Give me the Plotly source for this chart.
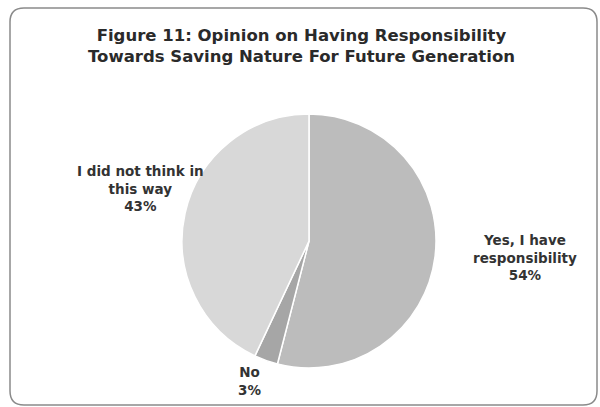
import plotly.graph_objects as go

labels = ["Yes, I have<br>responsibility", "No", "I did not think in<br>this way"]
values = [54, 3, 43]
colors = ["#bcbcbc", "#a6a6a6", "#d8d8d8"]
title_lines = ["Figure 11: Opinion on Having Responsibility",
               "Towards Saving Nature For Future Generation"]

W, H = 600, 407
# label anchor positions in pixels (layout only)
label_pos = [(525, 257), (249, 381), (140, 188)]

fig = go.Figure()
fig.add_trace(go.Pie(
    labels=labels, values=values, sort=False, direction="clockwise", rotation=0,
    marker=dict(colors=colors, line=dict(color="#ffffff", width=1.5)),
    textinfo="none", hoverinfo="label+percent", showlegend=False,
    domain=dict(x=[(309 - 127) / W, (309 + 127) / W],
                y=[1 - 368 / H, 1 - 114 / H]),
))

total = sum(values)
for lab, v, (px, py) in zip(labels, values, label_pos):
    fig.add_annotation(
        x=px / W, y=1 - py / H, xref="paper", yref="paper",
        text=f"<b>{lab}<br>{round(100 * v / total)}%</b>",
        showarrow=False, align="center", xanchor="center", yanchor="middle",
        font=dict(family="DejaVu Sans", size=13.5, color="#333333"),
    )

fig.add_annotation(
    x=301 / W, y=1 - 46 / H, xref="paper", yref="paper",
    text="<b>" + "<br>".join(title_lines) + "</b>",
    showarrow=False, align="center", xanchor="center", yanchor="middle",
    font=dict(family="DejaVu Sans", size=16.5, color="#2a2a2a"),
)

# rounded frame
x0, x1, y0, y1, r = 10, 597, 8, 405, 14
path = (f"M {(x0 + r) / W},{1 - y0 / H} L {(x1 - r) / W},{1 - y0 / H} "
        f"Q {x1 / W},{1 - y0 / H} {x1 / W},{1 - (y0 + r) / H} "
        f"L {x1 / W},{1 - (y1 - r) / H} "
        f"Q {x1 / W},{1 - y1 / H} {(x1 - r) / W},{1 - y1 / H} "
        f"L {(x0 + r) / W},{1 - y1 / H} "
        f"Q {x0 / W},{1 - y1 / H} {x0 / W},{1 - (y1 - r) / H} "
        f"L {x0 / W},{1 - (y0 + r) / H} "
        f"Q {x0 / W},{1 - y0 / H} {(x0 + r) / W},{1 - y0 / H} Z")
fig.add_shape(type="path", path=path, xref="paper", yref="paper",
              line=dict(color="#8a8a8a", width=1.5), fillcolor="rgba(0,0,0,0)",
              layer="below")

fig.update_layout(
    width=W, height=H, margin=dict(l=0, r=0, t=0, b=0),
    paper_bgcolor="#ffffff", plot_bgcolor="#ffffff",
)
fig.write_html("out.html")
